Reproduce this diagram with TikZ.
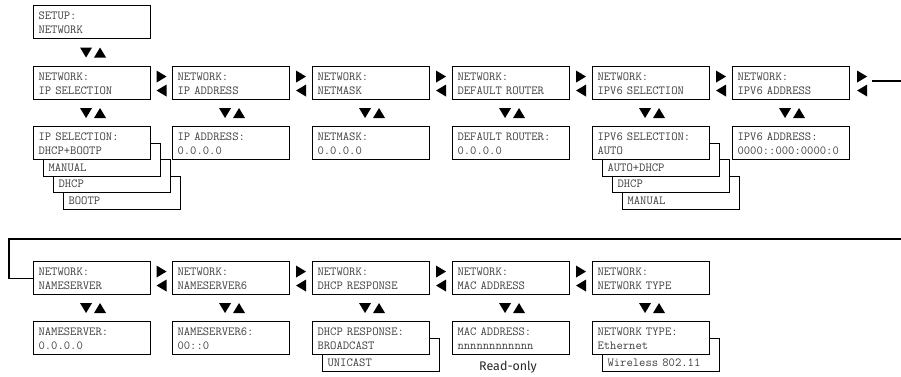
\documentclass[tikz,border=0pt]{standalone}
\usepackage{fontspec}
\usetikzlibrary{calc}
\newfontfamily\notefont{Fira Sans}
\newcommand\lcdtwo[2]{\rule{0pt}{10pt}#1\\#2\rule[-1.4pt]{0pt}{1.4pt}}
\begin{document}
\begin{tikzpicture}[x=1pt,y=-1pt,
  lcd/.style={draw=black, line width=1.1pt, fill=white, anchor=north west,
    minimum width=117pt, minimum height=33pt, text width=107pt,
    inner xsep=5pt, inner ysep=0pt, align=left, text=black!75,
    font={\ttfamily\fontsize{12.3}{14.5}\selectfont}},
  wire/.style={draw=black, line width=1.1pt},
  updown/.pic={\fill[black] (-12,-5) -- (0,-5) -- (-6,5) -- cycle;
               \fill[black] (2,5) -- (14,5) -- (8,-5) -- cycle;},
  rightleft/.pic={\fill[black] (-5,-12.5) -- (5,-6.5) -- (-5,-0.5) -- cycle;
                  \fill[black] (5,1.5) -- (-5,7.5) -- (5,13.5) -- cycle;}]
\useasboundingbox (0,0) rectangle (901,376);
\fill[white] (0,0) rectangle (901,376);

% top
\node[lcd] (setup) at (33,5) {\lcdtwo{SETUP:}{NETWORK}};

% row B
\node[lcd] (nipsel)    at (33,66)  {\lcdtwo{NETWORK:}{IP SELECTION}};
\node[lcd] (nipaddr)   at (172,66) {\lcdtwo{NETWORK:}{IP ADDRESS}};
\node[lcd] (nnetmask)  at (312,66) {\lcdtwo{NETWORK:}{NETMASK}};
\node[lcd] (nrouter)   at (452,66) {\lcdtwo{NETWORK:}{DEFAULT ROUTER}};
\node[lcd] (nipvsel)   at (592,66) {\lcdtwo{NETWORK:}{IPV6 SELECTION}};
\node[lcd] (nipvaddr)  at (732,66) {\lcdtwo{NETWORK:}{IPV6 ADDRESS}};

% row C
\node[lcd] (obootp)    at (63,175.5) {\lcdtwo{}{BOOTP}};
\node[lcd] (odhcp)     at (53,159)   {\lcdtwo{}{DHCP}};
\node[lcd] (omanual)   at (43,142.5) {\lcdtwo{}{MANUAL}};
\node[lcd] (vipsel)    at (33,126)  {\lcdtwo{IP SELECTION:}{DHCP+BOOTP}};
\node[lcd] (vipaddr)   at (172,126) {\lcdtwo{IP ADDRESS:}{0.0.0.0}};
\node[lcd] (vnetmask)  at (312,126) {\lcdtwo{NETMASK:}{0.0.0.0}};
\node[lcd] (vrouter)   at (452,126) {\lcdtwo{DEFAULT ROUTER:}{0.0.0.0}};
\node[lcd] (o6manual)  at (622,175.5) {\lcdtwo{}{MANUAL}};
\node[lcd] (o6dhcp)    at (612,159)   {\lcdtwo{}{DHCP}};
\node[lcd] (o6auto)    at (602,142.5) {\lcdtwo{}{AUTO+DHCP}};
\node[lcd] (vipvsel)   at (592,126) {\lcdtwo{IPV6 SELECTION:}{AUTO}};
\node[lcd] (vipvaddr)  at (732,126) {\lcdtwo{IPV6 ADDRESS:}{0000::000:0000:0}};

% row D
\node[lcd] (nns)   at (33,261)  {\lcdtwo{NETWORK:}{NAMESERVER}};
\node[lcd] (nns6)  at (172,261) {\lcdtwo{NETWORK:}{NAMESERVER6}};
\node[lcd] (ndhcp) at (312,261) {\lcdtwo{NETWORK:}{DHCP RESPONSE}};
\node[lcd] (nmac)  at (452,261) {\lcdtwo{NETWORK:}{MAC ADDRESS}};
\node[lcd] (ntype) at (592,261) {\lcdtwo{NETWORK:}{NETWORK TYPE}};

% row E
\node[lcd] (vns)    at (33,321)  {\lcdtwo{NAMESERVER:}{0.0.0.0}};
\node[lcd] (vns6)   at (172,321) {\lcdtwo{NAMESERVER6:}{00::0}};
\node[lcd] (ouni)   at (322,337.5) {\lcdtwo{}{UNICAST}};
\node[lcd] (vdhcp)  at (312,321) {\lcdtwo{DHCP RESPONSE:}{BROADCAST}};
\node[lcd] (vmac)   at (452,321) {\lcdtwo{MAC ADDRESS:}{nnnnnnnnnnnn}};
\node[lcd] (owire)  at (602,337.5) {\lcdtwo{}{Wireless 802.11}};
\node[lcd] (vtype)  at (592,321) {\lcdtwo{NETWORK TYPE:}{Ethernet}};

\node[font={\notefont\fontsize{12.5}{14}\selectfont}, text=black!85, inner sep=0pt]
  (readonly) at (508,367) {Read-only};

% up/down arrows
\pic at ($(setup.south)!0.5!(nipsel.north)$) {updown};
\foreach \a/\b in {nipsel/vipsel, nipaddr/vipaddr, nnetmask/vnetmask,
  nrouter/vrouter, nipvsel/vipvsel, nipvaddr/vipvaddr,
  nns/vns, nns6/vns6, ndhcp/vdhcp, nmac/vmac, ntype/vtype}
  \pic at ($(\a.south)!0.5!(\b.north)$) {updown};

% left/right arrows
\foreach \a/\b in {nipsel/nipaddr, nipaddr/nnetmask, nnetmask/nrouter,
  nrouter/nipvsel, nipvsel/nipvaddr,
  nns/nns6, nns6/ndhcp, ndhcp/nmac, nmac/ntype}
  \pic at ($(\a.east)!0.5!(\b.west)$) {rightleft};
\pic at ([xshift=12pt]nipvaddr.east) {rightleft};

% wrap-around connector
\coordinate (wrA) at (872,81);
\coordinate (wrB) at (901,81);
\coordinate (wrC) at (901,239);
\coordinate (wrD) at (9,239);
\draw[wire] (wrA) -- (wrB);
\draw[wire] (wrC) -- (wrD) |- (nns.west);
\end{tikzpicture}
\end{document}
